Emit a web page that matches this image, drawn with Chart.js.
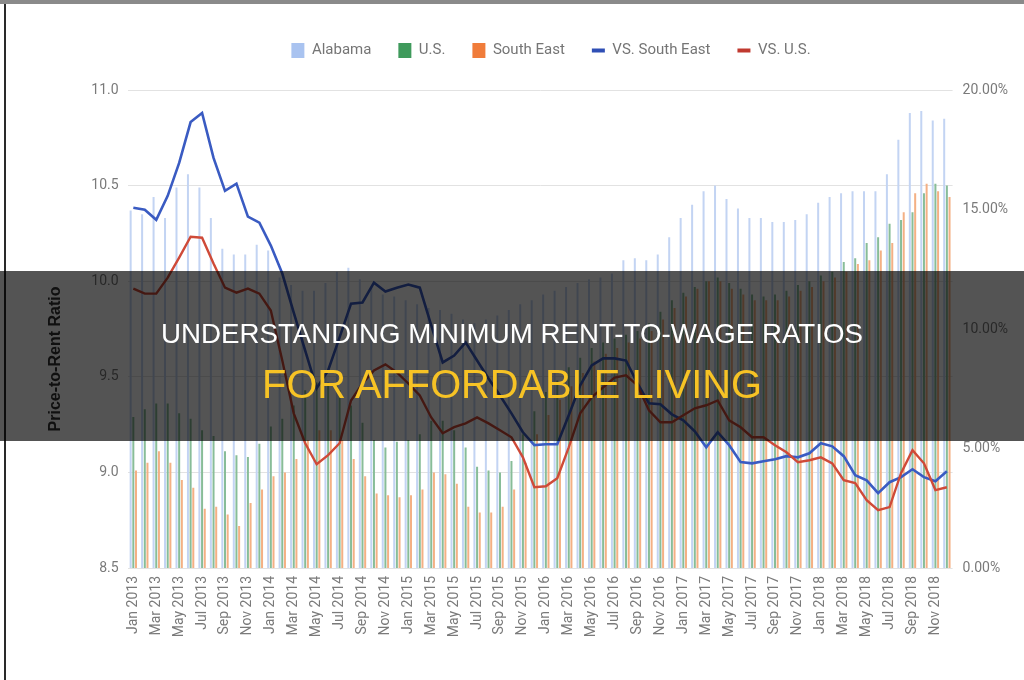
<!DOCTYPE html>
<html>
<head>
<meta charset="utf-8">
<title>Price-to-Rent Ratio</title>
<script src="https://cdn.jsdelivr.net/npm/chart.js@4.4.3/dist/chart.umd.min.js"></script>
<style>
  html, body { margin: 0; padding: 0; background: #fff; }
  #wrap { position: relative; width: 1024px; height: 680px; overflow: hidden; background: #fff; }
  #wrap canvas { position: absolute; left: 0; top: 0; }
  .frame-top { position: absolute; left: 0; top: 0; width: 1024px; height: 4px; background: #8a8a8a; }
  .frame-left { position: absolute; left: 4px; top: 4px; width: 2px; height: 676px; background: #2a2a2a; }
  .ytitle { position: absolute; left: 55px; top: 359px; transform: translate(-50%, -50%) rotate(-90deg);
            font: bold 16px "Liberation Sans", Arial, sans-serif; color: #333; white-space: nowrap; }
  .band { position: absolute; left: 0; top: 271px; width: 1024px; height: 170px; background: rgba(0,0,0,0.67); }
  .band div { position: absolute; left: 0; right: 0; text-align: center; font-family: "Liberation Sans", Arial, sans-serif; white-space: nowrap; }
  .band .t1 { top: 49px; font-size: 27.7px; line-height: 28px; color: #ffffff; }
  .band .t2 { top: 93px; font-size: 39.8px; line-height: 40px; color: #f7c325; }
</style>
</head>
<body>
<div id="wrap">
  <canvas id="chart" width="1024" height="680"></canvas>
  <div class="frame-top"></div>
  <div class="frame-left"></div>
  <div class="ytitle">Price-to-Rent Ratio</div>
  <div class="band">
    <div class="t1">UNDERSTANDING MINIMUM RENT-TO-WAGE RATIOS</div>
    <div class="t2">FOR AFFORDABLE LIVING</div>
  </div>
</div>
<script>
// --- data ---
const MONTHS = ['Jan','Feb','Mar','Apr','May','Jun','Jul','Aug','Sep','Oct','Nov','Dec'];
const YEARS = ['2013','2014','2015','2016','2017','2018'];
const categories = YEARS.flatMap(y => MONTHS.map(m => m + ' ' + y));

// price-to-rent ratio (left axis)
const alabama = [
  10.37, 10.35, 10.44, 10.33, 10.49, 10.56, 10.49, 10.33, 10.17, 10.14, 10.14, 10.19,
  10.16, 10.02,  9.98,  9.95,  9.95,  9.99, 10.05, 10.07, 10.01,  9.97,  9.93,  9.92,
   9.90,  9.88,  9.86,  9.85,  9.83,  9.80,  9.78,  9.80,  9.82,  9.85,  9.88,  9.90,
   9.93,  9.95,  9.97,  9.99, 10.01, 10.02, 10.04, 10.11, 10.12, 10.11, 10.14, 10.23,
  10.33, 10.40, 10.47, 10.50, 10.43, 10.38, 10.33, 10.33, 10.31, 10.31, 10.32, 10.35,
  10.41, 10.44, 10.46, 10.47, 10.47, 10.47, 10.56, 10.74, 10.88, 10.89, 10.84, 10.85
];
const usRatio = [
   9.29,  9.33,  9.36,  9.36,  9.31,  9.28,  9.22,  9.19,  9.11,  9.09,  9.08,  9.15,
   9.24,  9.28,  9.35,  9.43,  9.47,  9.47,  9.43,  9.35,  9.26,  9.17,  9.13,  9.16,
   9.17,  9.20,  9.27,  9.27,  9.22,  9.13,  9.03,  9.01,  9.00,  9.06,  9.20,  9.32,
   9.42,  9.48,  9.55,  9.60,  9.65,  9.68,  9.70,  9.72,  9.74,  9.78,  9.84,  9.90,
   9.94,  9.97, 10.00, 10.02,  9.99,  9.96,  9.93,  9.92,  9.93,  9.95,  9.98, 10.00,
  10.03, 10.05, 10.10, 10.12, 10.20, 10.23, 10.30, 10.32, 10.36, 10.46, 10.51, 10.50
];
const southEast = [
   9.01,  9.05,  9.11,  9.05,  8.96,  8.92,  8.81,  8.82,  8.78,  8.72,  8.84,  8.91,
   8.98,  9.00,  9.07,  9.17,  9.22,  9.22,  9.17,  9.07,  8.98,  8.89,  8.88,  8.87,
   8.88,  8.91,  9.00,  8.99,  8.94,  8.82,  8.79,  8.79,  8.82,  8.91,  9.05,  9.20,
   9.30,  9.38,  9.45,  9.52,  9.58,  9.62,  9.65,  9.68,  9.70,  9.74,  9.80,  9.86,
   9.92,  9.96, 10.00, 10.00,  9.96,  9.93,  9.90,  9.90,  9.90,  9.92,  9.95,  9.97,
  10.00, 10.02, 10.05, 10.09, 10.11, 10.16, 10.20, 10.36, 10.46, 10.51, 10.47, 10.44
];

// premium in percent (right axis)
const vsSouthEast = [
  15.07, 14.99, 14.57, 15.57, 16.95, 18.66, 19.04, 17.16, 15.78, 16.08, 14.70, 14.45,
  13.49, 12.32, 10.69,  9.10,  7.52,  8.27,  9.65, 11.06, 11.11, 11.94, 11.57, 11.73,
  11.86, 11.73, 10.15,  8.60,  8.89,  9.44,  8.68,  7.93,  7.22,  6.47,  5.68,  5.14,
   5.18,  5.18,  6.39,  7.64,  8.48,  8.77,  8.77,  8.68,  7.72,  6.89,  6.85,  6.43,
   6.18,  5.72,  5.05,  5.68,  5.14,  4.43,  4.38,  4.47,  4.55,  4.68,  4.63,  4.80,
   5.22,  5.09,  4.68,  3.88,  3.67,  3.13,  3.59,  3.80,  4.13,  3.80,  3.63,  4.05
];
const vsUS = [
  11.69, 11.48, 11.48, 12.15, 12.99, 13.86, 13.82, 12.74, 11.73, 11.52, 11.69, 11.48,
  10.77,  8.68,  6.47,  5.22,  4.34,  4.72,  5.22,  7.01,  7.72,  8.27,  8.52,  8.18,
   7.72,  7.22,  6.30,  5.64,  5.89,  6.05,  6.30,  6.05,  5.76,  5.47,  4.63,  3.38,
   3.42,  3.76,  5.05,  6.47,  7.14,  7.56,  7.97,  8.06,  7.64,  6.60,  6.10,  6.10,
   6.39,  6.68,  6.81,  7.01,  6.18,  5.89,  5.47,  5.47,  5.14,  4.84,  4.43,  4.51,
   4.63,  4.38,  3.67,  3.55,  2.84,  2.42,  2.55,  3.97,  4.93,  4.38,  3.26,  3.38
];

const seriesNames = ['Alabama', 'U.S.', 'South East', 'VS. South East', 'VS. U.S.'];
const leftTicks = [8.5, 9.0, 9.5, 10.0, 10.5, 11.0];
const rightTicks = [0, 5, 10, 15, 20];

// --- styling ---
const legendColors = ['#a9c3f0', '#3f9a5c', '#f07c3a', '#2f4fb5', '#c0392f'];
const tickColor = '#7a7a7a';

const legendSpacer = {
  id: 'legendSpacer',
  beforeInit(chart) {
    const fit = chart.legend.fit;
    chart.legend.fit = function () {
      fit.call(this);
      this.height += 22;
    };
  }
};

const ctx = document.getElementById('chart').getContext('2d');
new Chart(ctx, {
  type: 'bar',
  data: {
    labels: categories,
    datasets: [
      { label: seriesNames[0], data: alabama, yAxisID: 'y', backgroundColor: '#c3d4f3', order: 3,
        categoryPercentage: 0.7, barPercentage: 0.75 },
      { label: seriesNames[1], data: usRatio, yAxisID: 'y', backgroundColor: '#88bd98', order: 3,
        categoryPercentage: 0.7, barPercentage: 0.75 },
      { label: seriesNames[2], data: southEast, yAxisID: 'y', backgroundColor: '#f4b084', order: 3,
        categoryPercentage: 0.7, barPercentage: 0.75 },
      { type: 'line', label: seriesNames[3], data: vsSouthEast, yAxisID: 'y1', borderColor: '#3a5bc2',
        backgroundColor: '#3a5bc2', borderWidth: 2.6, pointRadius: 0, tension: 0, order: 1 },
      { type: 'line', label: seriesNames[4], data: vsUS, yAxisID: 'y1', borderColor: '#cf4a38',
        backgroundColor: '#cf4a38', borderWidth: 2.4, pointRadius: 0, tension: 0, order: 0 }
    ]
  },
  options: {
    responsive: false,
    animation: false,
    devicePixelRatio: 1,
    layout: { padding: { top: 16, left: 78, right: 0, bottom: 0 } },
    plugins: {
      tooltip: { enabled: false },
      legend: {
        position: 'top',
        align: 'center',
        labels: {
          usePointStyle: true,
          pointStyleWidth: 13,
          boxHeight: 15,
          padding: 27,
          color: '#757575',
          font: { family: 'Roboto', size: 15 },
          generateLabels(chart) {
            const items = Chart.defaults.plugins.legend.labels.generateLabels(chart);
            items.sort((a, b) => a.datasetIndex - b.datasetIndex);
            items.forEach(it => {
              const i = it.datasetIndex;
              it.fillStyle = legendColors[i];
              it.strokeStyle = legendColors[i];
              it.pointStyle = i < 3 ? 'rect' : 'line';
              it.lineWidth = i < 3 ? 0 : 4;
            });
            return items;
          }
        }
      }
    },
    scales: {
      x: {
        grid: { display: false, drawTicks: false },
        border: { display: false },
        ticks: {
          autoSkip: false,
          minRotation: 90,
          maxRotation: 90,
          padding: 8,
          color: tickColor,
          font: { family: 'Roboto', size: 14 },
          callback(v, i) { return i % 2 === 0 ? categories[i] : null; }
        },
        afterFit(s) { s.height = 112; }
      },
      y: {
        position: 'left',
        min: 8.5,
        max: 11,
        afterBuildTicks(s) { s.ticks = leftTicks.map(v => ({ value: v })); },
        grid: { color: '#e2e2e2', drawTicks: false },
        border: { display: false },
        ticks: {
          padding: 9,
          color: tickColor,
          font: { family: 'Roboto', size: 14 },
          callback(v) { return Number(v).toFixed(1); }
        },
        afterFit(s) { s.width = 49.6; }
      },
      y1: {
        position: 'right',
        min: 0,
        max: 20,
        afterBuildTicks(s) { s.ticks = rightTicks.map(v => ({ value: v })); },
        grid: { display: false, drawTicks: false },
        border: { display: false },
        ticks: {
          padding: 10,
          color: tickColor,
          font: { family: 'Roboto', size: 14 },
          callback(v) { return Number(v).toFixed(2) + '%'; }
        },
        afterFit(s) { s.width = 71.4; }
      }
    }
  },
  plugins: [legendSpacer]
});
</script>
</body>
</html>
